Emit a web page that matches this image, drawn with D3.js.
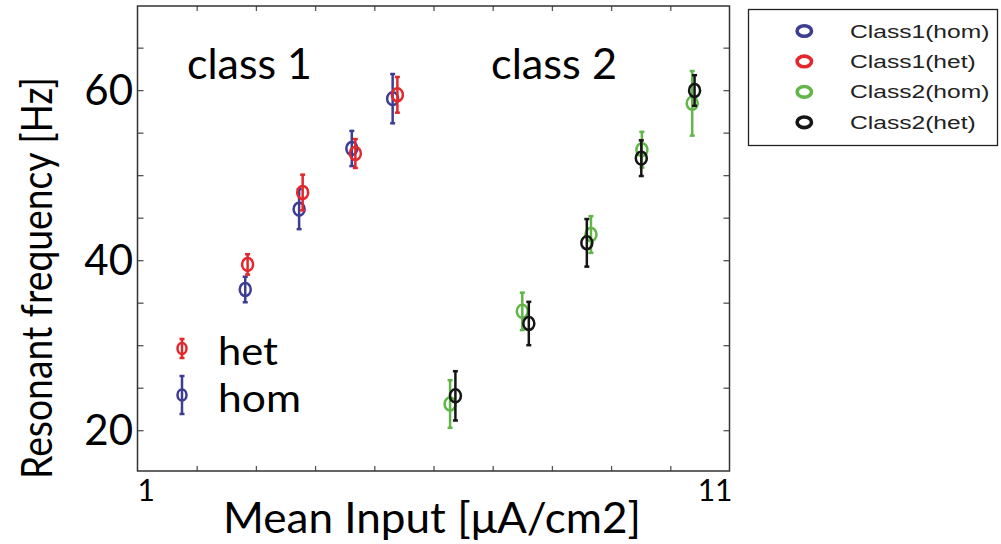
<!DOCTYPE html>
<html>
<head>
<meta charset="utf-8">
<script src="https://cdnjs.cloudflare.com/ajax/libs/d3/7.8.5/d3.min.js"></script>
<style>
  body { margin: 0; background: #fff; }
  svg { display: block; }
</style>
</head>
<body>
<div id="chart"></div>
<script>

// values
var class1HomX = [2.82, 3.73, 4.62, 5.31];
var class1HomY = [36.55, 46.0, 53.14, 59.0];
var class1HomErr = [1.5, 2.35, 2.07, 2.9];

var class1HetX = [2.86, 3.79, 4.68, 5.39];
var class1HetY = [39.5, 47.96, 52.55, 59.45];
var class1HetErr = [1.2, 2.1, 1.7, 2.1];

var class2HomX = [6.28, 7.50, 8.66, 9.52, 10.37];
var class2HomY = [23.08, 33.98, 43.02, 53.0, 58.45];
var class2HomErr = [2.8, 2.2, 2.16, 2.1, 3.8];

var class2HetX = [6.37, 7.61, 8.59, 9.51, 10.41];
var class2HetY = [24.04, 32.55, 42.04, 52.0, 59.96];
var class2HetErr = [2.9, 2.55, 2.8, 2.1, 1.8];

var seriesNames = ["Class1(hom)", "Class1(het)", "Class2(hom)", "Class2(het)"];
var seriesColors = ["#3d3d94", "#e3272c", "#62b649", "#151515"];

var xTickValues = [2, 3, 4, 5, 6, 7, 8, 9, 10];
var yTickValues = [20, 25, 30, 35, 40, 45, 50, 55, 60, 65];
var yTickLabels = [20, 40, 60];

var width = 1001;
var height = 544;
var font = "Lato, 'Open Sans', sans-serif";

var svg = d3.select("#chart").append("svg")
    .attr("width", width)
    .attr("height", height);

var x = d3.scaleLinear().domain([1, 11]).range([137.5, 729.5]);
var y = d3.scaleLinear().domain([15.2, 69.9]).range([471, 6]);

// axes: ticks inside on all four sides
svg.append("g")
    .attr("transform", "translate(0," + y.range()[0] + ")")
    .call(d3.axisBottom(x).tickValues(xTickValues).tickSize(-5).tickFormat(""));
svg.append("g")
    .attr("transform", "translate(0," + y.range()[1] + ")")
    .call(d3.axisTop(x).tickValues(xTickValues).tickSize(-5).tickFormat(""));
svg.append("g")
    .attr("transform", "translate(" + x.range()[0] + ",0)")
    .call(d3.axisLeft(y).tickValues(yTickValues).tickSize(-6).tickFormat(""));
svg.append("g")
    .attr("transform", "translate(" + x.range()[1] + ",0)")
    .call(d3.axisRight(y).tickValues(yTickValues).tickSize(-6).tickFormat(""));

svg.selectAll(".domain").remove();
svg.selectAll(".tick line").attr("stroke", "#555").attr("stroke-width", 1.3);

svg.append("rect")
    .attr("x", x.range()[0])
    .attr("y", y.range()[1])
    .attr("width", x.range()[1] - x.range()[0])
    .attr("height", y.range()[0] - y.range()[1])
    .attr("fill", "none")
    .attr("stroke", "#333")
    .attr("stroke-width", 1.5);

// tick labels
svg.selectAll(".ylab")
    .data(yTickLabels)
    .enter().append("text")
    .attr("x", 133)
    .attr("y", function (d) { return y(d) + 15; })
    .attr("text-anchor", "end")
    .style("font-family", font)
    .style("font-size", "42px")
    .text(function (d) { return d; });

svg.append("text")
    .attr("x", x(1))
    .attr("y", 501)
    .style("font-family", font)
    .style("font-size", "30px")
    .text("1");
svg.append("text")
    .attr("x", x(11) + 3)
    .attr("y", 501)
    .attr("text-anchor", "end")
    .style("font-family", font)
    .style("font-size", "30px")
    .text("11");

// axis titles
svg.append("text")
    .attr("transform", "translate(52,278) rotate(-90)")
    .attr("text-anchor", "middle")
    .attr("textLength", 402)
    .attr("lengthAdjust", "spacingAndGlyphs")
    .style("font-family", font)
    .style("font-size", "42px")
    .text("Resonant frequency [Hz]");

svg.append("text")
    .attr("x", 432)
    .attr("y", 533)
    .attr("text-anchor", "middle")
    .attr("textLength", 418)
    .attr("lengthAdjust", "spacingAndGlyphs")
    .style("font-family", font)
    .style("font-size", "42px")
    .text("Mean Input [\u03bcA/cm2]");

// class annotations
svg.append("text")
    .attr("x", 187).attr("y", 79)
    .attr("textLength", 125).attr("lengthAdjust", "spacingAndGlyphs")
    .style("font-family", font).style("font-size", "43px")
    .text("class 1");
svg.append("text")
    .attr("x", 491).attr("y", 79)
    .attr("textLength", 126).attr("lengthAdjust", "spacingAndGlyphs")
    .style("font-family", font).style("font-size", "43px")
    .text("class 2");

// error bar points
function drawSeries(xs, ys, errs, color) {
    var rows = xs.map(function (d, i) { return { x: d, y: ys[i], e: errs[i] }; });
    var g = svg.append("g")
        .attr("stroke", color)
        .attr("fill", "none")
        .attr("stroke-width", 2.5);

    var pt = g.selectAll("g").data(rows).enter().append("g");

    pt.append("line")
        .attr("x1", function (d) { return x(d.x); })
        .attr("x2", function (d) { return x(d.x); })
        .attr("y1", function (d) { return y(d.y - d.e); })
        .attr("y2", function (d) { return y(d.y + d.e); });

    [-1, 1].forEach(function (s) {
        pt.append("line")
            .attr("x1", function (d) { return x(d.x) - 2.5; })
            .attr("x2", function (d) { return x(d.x) + 2.5; })
            .attr("y1", function (d) { return y(d.y + s * d.e); })
            .attr("y2", function (d) { return y(d.y + s * d.e); });
    });

    pt.append("ellipse")
        .attr("cx", function (d) { return x(d.x); })
        .attr("cy", function (d) { return y(d.y); })
        .attr("rx", 5.5)
        .attr("ry", 6.5);
}

drawSeries(class1HomX, class1HomY, class1HomErr, seriesColors[0]);
drawSeries(class1HetX, class1HetY, class1HetErr, seriesColors[1]);
drawSeries(class2HomX, class2HomY, class2HomErr, seriesColors[2]);
drawSeries(class2HetX, class2HetY, class2HetErr, seriesColors[3]);

// small in-plot legend (het / hom)
function legendMark(cx, cy, half, color) {
    var g = svg.append("g").attr("stroke", color).attr("fill", "none").attr("stroke-width", 2.5);
    g.append("line").attr("x1", cx).attr("x2", cx).attr("y1", cy - half).attr("y2", cy + half);
    g.append("line").attr("x1", cx - 2.5).attr("x2", cx + 2.5).attr("y1", cy - half).attr("y2", cy - half);
    g.append("line").attr("x1", cx - 2.5).attr("x2", cx + 2.5).attr("y1", cy + half).attr("y2", cy + half);
    g.append("ellipse").attr("cx", cx).attr("cy", cy).attr("rx", 4.5).attr("ry", 5.5);
}
legendMark(182, 348.5, 9.5, seriesColors[1]);
legendMark(182, 395, 19, seriesColors[0]);

// tightly stacked labels; slightly smaller font so the boxes don't collide
svg.append("text").attr("x", 218).attr("y", 365)
    .attr("textLength", 60).attr("lengthAdjust", "spacingAndGlyphs")
    .style("font-family", font).style("font-size", "39px").text("het");
svg.append("text").attr("x", 218).attr("y", 412)
    .attr("textLength", 83).attr("lengthAdjust", "spacingAndGlyphs")
    .style("font-family", font).style("font-size", "39px").text("hom");

// boxed legend on the right (stretched horizontally like the figure)
svg.append("rect")
    .attr("x", 748.5).attr("y", 9.5)
    .attr("width", 249).attr("height", 136)
    .attr("fill", "#fff")
    .attr("stroke", "#222")
    .attr("stroke-width", 1.3);

var legendY = d3.scalePoint().domain(seriesNames).range([31, 122.3]);

var item = svg.selectAll(".leg")
    .data(seriesNames)
    .enter().append("g")
    .attr("transform", function (d) { return "translate(0," + legendY(d) + ")"; });

item.append("ellipse")
    .attr("cx", 804.3)
    .attr("cy", 0)
    .attr("rx", 7.2)
    .attr("ry", 5.3)
    .attr("fill", "none")
    .attr("stroke", function (d, i) { return seriesColors[i]; })
    .attr("stroke-width", 3.6);

item.append("text")
    .attr("transform", "translate(850,6.6) scale(1.33,1)")
    .style("font-family", "'Liberation Sans', Arial, sans-serif")
    .style("font-size", "18.5px")
    .attr("fill", "#222")
    .text(function (d) { return d; });

</script>
</body>
</html>
